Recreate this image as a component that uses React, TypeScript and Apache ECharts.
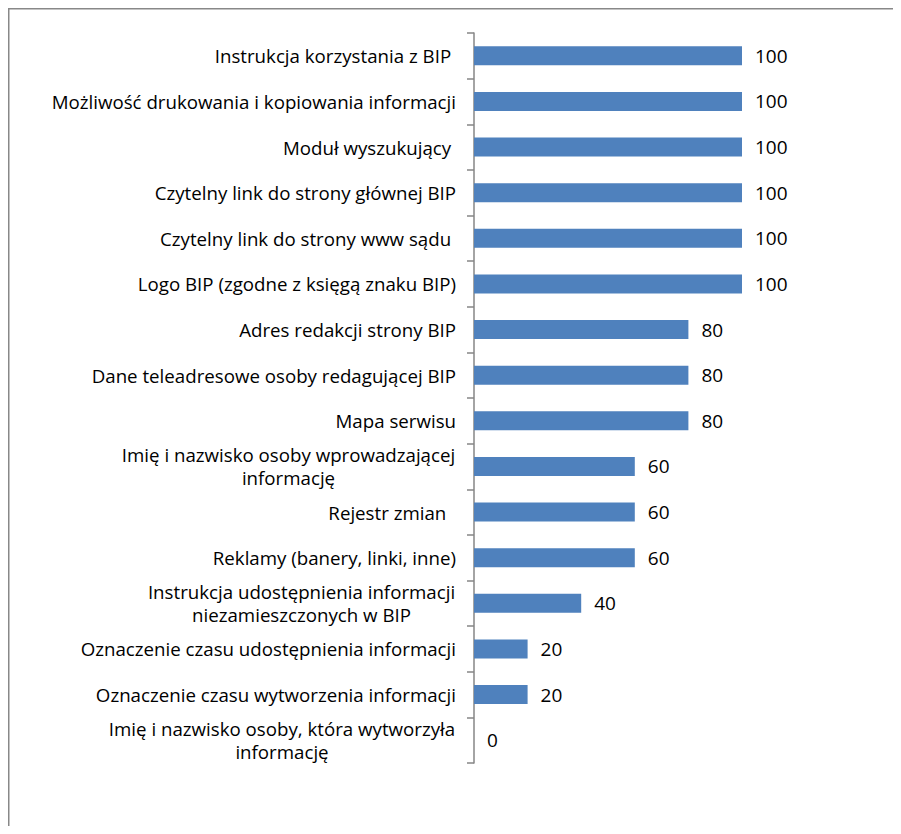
import React, { useEffect, useRef } from "react";
import * as echarts from "echarts";

const categories: string[] = [
  "Instrukcja korzystania z BIP ",
  "Możliwość drukowania i kopiowania informacji",
  "Moduł wyszukujący ",
  "Czytelny link do strony głównej BIP",
  "Czytelny link do strony www sądu ",
  "Logo BIP (zgodne z księgą znaku BIP)",
  "Adres redakcji strony BIP",
  "Dane teleadresowe osoby redagującej BIP",
  "Mapa serwisu",
  "Imię i nazwisko osoby wprowadzającej\ninformację",
  "Rejestr zmian  ",
  "Reklamy (banery, linki, inne)",
  "Instrukcja udostępnienia informacji\nniezamieszczonych w BIP",
  "Oznaczenie czasu udostępnienia informacji",
  "Oznaczenie czasu wytworzenia informacji",
  "Imię i nazwisko osoby, która wytworzyła\ninformację",
];

const values: number[] = [100, 100, 100, 100, 100, 100, 80, 80, 80, 60, 60, 60, 40, 20, 20, 0];

const FONT = '"Open Sans", "Noto Sans", sans-serif';
const FS = 18.7;
const VFS = 19;

export default function App() {
  const ref = useRef<HTMLDivElement>(null);
  useEffect(() => {
    if (!ref.current) return;
    document.documentElement.style.overflow = "hidden";
    document.body.style.overflow = "hidden";
    const chart = echarts.init(ref.current, null, { renderer: "svg" });
    const canvas = document.createElement("canvas");
    const ctx = canvas.getContext("2d")!;
    ctx.font = `${FS}px ${FONT}`;
    const rich: Record<string, any> = {};
    categories.forEach((c, i) => {
      const lines = c.split("\n");
      const w = Math.max(...lines.map((l) => ctx.measureText(l).width));
      rich["c" + i] = {
        width: Math.ceil(w) + 1,
        align: "center",
        fontSize: FS,
        fontFamily: FONT,
        color: "#000",
        lineHeight: 23,
      };
    });

    chart.setOption({
      animation: false,
      graphic: [
        { type: "line", shape: { x1: 0, y1: 0.75, x2: 900, y2: 0.75 }, style: { stroke: "#888", lineWidth: 1.5 } },
        { type: "line", shape: { x1: 0.75, y1: 0, x2: 0.75, y2: 830 }, style: { stroke: "#888", lineWidth: 1.5 } },
      ],
      grid: { left: 466, top: 25, width: 268, height: 730, containLabel: false },
      xAxis: {
        type: "value",
        min: 0,
        max: 100,
        show: false,
      },
      yAxis: {
        type: "category",
        inverse: true,
        data: categories,
        axisLine: { show: true, lineStyle: { color: "#868686", width: 1.5 } },
        axisTick: { show: true, length: 7, lineStyle: { color: "#868686", width: 1.5 } },
        splitLine: { show: false },
        axisLabel: {
          margin: 18,
          fontSize: FS,
          fontFamily: FONT,
          color: "#000",
          lineHeight: 23,
          rich,
          formatter: (value: string) => {
            const i = categories.indexOf(value);
            const lines = value.split("\n");
            if (lines.length === 1) return value;
            return lines.map((l) => `{c${i}|${l}}`).join("\n");
          },
        },
      },
      series: [
        {
          type: "bar",
          data: values,
          barWidth: 19,
          itemStyle: { color: "#4f81bd" },
          label: {
            show: true,
            position: "right",
            distance: 13,
            fontSize: VFS,
            fontFamily: FONT,
            color: "#000",
          },
        },
      ],
    });
    return () => chart.dispose();
  }, []);

  return <div ref={ref} style={{ width: 893, height: 826, marginBottom: -8 }} />;
}
